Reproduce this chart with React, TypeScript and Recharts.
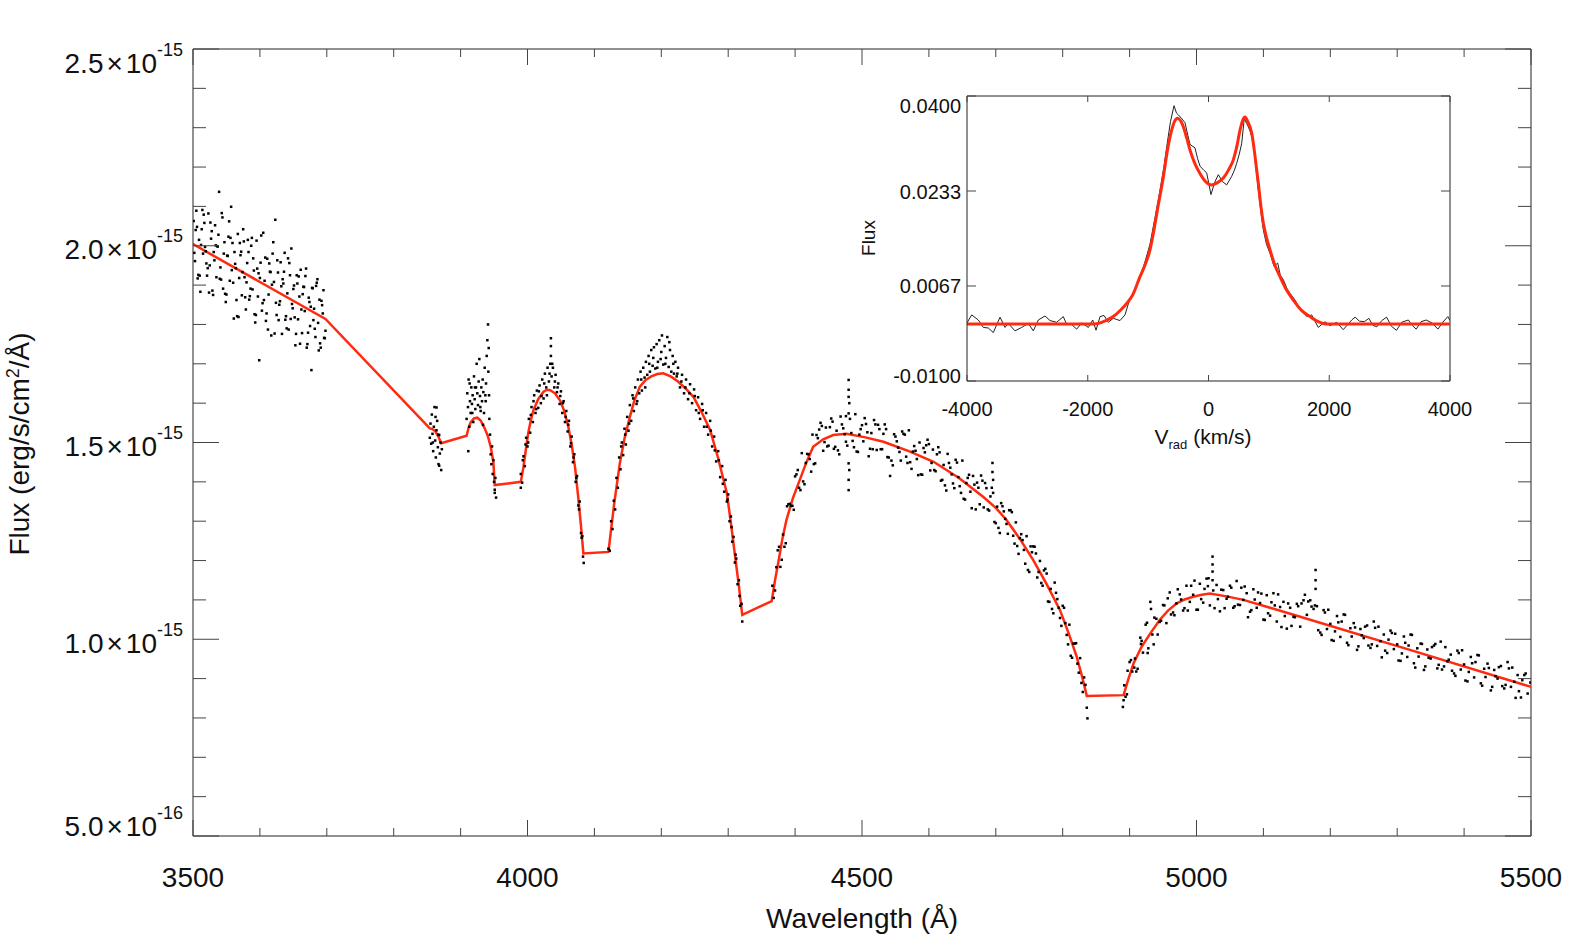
import { ComposedChart, LineChart, Line, Scatter, XAxis, YAxis, ReferenceLine } from 'recharts'

// ---- main spectrum: observed flux (units of 1e-15 erg/s/cm2/A) ----
const blueCont: [number, number][] = [
  [3501,2.063],[3503,1.961],[3505,2.089],[3507,1.917],[3509,2.015],[3511,1.883],[3513,2.042],[3515,1.980],[3517,2.058],[3519,1.986],
  [3521,1.924],[3523,2.082],[3525,1.950],[3527,2.018],[3529,1.886],[3531,1.984],[3533,2.052],[3535,1.920],[3537,1.998],[3539,2.137],
  [3541,1.945],[3543,2.083],[3545,1.891],[3547,2.009],[3549,1.857],[3551,1.975],[3553,2.023],[3555,1.911],[3557,2.099],[3559,2.007],
  [3561,1.815],[3563,1.954],[3565,1.862],[3567,2.030],[3569,1.918],[3571,1.976],[3573,1.874],[3575,2.042],[3577,1.920],[3579,1.838],
  [3581,1.956],[3583,1.984],[3585,1.872],[3587,2.000],[3589,1.889],[3591,1.937],[3593,1.805],[3595,2.013],[3597,1.871],[3599,1.709],
  [3601,1.957],[3603,1.835],[3605,2.033],[3607,1.911],[3609,1.809],[3611,1.967],[3613,1.876],[3615,1.934],[3617,1.772],[3619,1.980],
  [3621,1.908],[3623,2.066],[3625,1.824],[3627,1.932],[3629,1.850],[3631,1.958],[3633,1.776],[3635,1.904],[3637,1.982],[3639,1.821],
  [3641,1.879],[3643,1.787],[3645,1.925],[3647,1.993],[3649,1.841],[3651,1.899],[3653,1.747],[3655,1.925],[3657,1.813],[3659,1.871],
  [3661,1.939],[3663,1.778],[3665,1.896],[3667,1.834],[3669,1.942],[3671,1.750],[3673,1.868],[3675,1.796],[3677,1.684],[3679,1.892],
  [3681,1.840],[3683,1.768],[3685,1.906],[3687,1.804],[3689,1.863],[3691,1.741],[3693,1.849],[3695,1.887],[3697,1.765],
  [3502,1.982],[3506,2.048],[3510,1.924],[3514,2.091],[3518,1.997],[3522,1.943],[3526,2.059],[3530,1.875],[3534,2.001],[3538,2.028],
  [3542,1.914],[3546,1.980],[3550,1.876],[3554,2.062],[3558,1.938],[3562,1.984],[3566,1.821],[3570,2.007],[3574,1.933],[3578,1.869],
  [3582,2.015],[3586,1.891],[3590,1.968],[3594,1.824],[3598,1.930],[3602,2.026],[3606,1.862],[3610,1.828],[3614,1.955],[3618,1.901],
  [3622,1.777],[3626,1.963],[3630,1.859],[3634,1.915],[3638,1.812],[3642,1.968],[3646,1.814],[3650,1.890],[3654,1.776],[3658,1.922],
  [3662,1.838],[3666,1.895],[3670,1.741],[3674,1.857],[3678,1.893],[3682,1.789],[3686,1.915],[3690,1.752],[3694,1.828],[3698,1.784],
  [3504,2.040],[3508,1.926],[3512,2.002],[3516,2.079],[3520,1.955],[3524,1.881],[3528,2.037],[3532,1.963],[3536,1.999],[3540,1.916],
  [3544,2.072],[3548,1.878],[3552,1.974],[3556,2.020],[3560,1.906],[3564,1.943],[3568,1.819],[3572,1.985],[3576,2.011],[3580,1.907],
  [3584,1.863],[3588,2.020],[3592,1.826],[3596,1.942],[3600,1.918],[3604,1.854],[3608,1.970],[3612,1.787],[3616,1.933],[3620,2.009],
  [3624,1.855],[3628,1.811],[3632,1.897],[3636,1.934],[3640,1.790],[3644,1.956],[3648,1.852],[3652,1.818],[3656,1.904],[3660,1.751],
  [3664,1.877],[3668,1.923],[3672,1.779],[3676,1.845],[3680,1.811],[3684,1.898],[3688,1.734],[3692,1.860],[3696,1.766],
]

const clusterH8: [number, number][] = [
  [3854,1.512],[3855,1.548],[3856,1.497],[3857,1.571],[3858,1.522],[3859,1.478],[3860,1.540],[3861,1.590],[3862,1.505],[3863,1.462],
  [3864,1.531],[3865,1.555],[3866,1.488],[3867,1.445],[3868,1.519],[3869,1.472],[3870,1.500],[3871,1.430],[3872,1.483],[3858.5,1.500],
  [3862.5,1.565],[3866.5,1.520],[3864,1.589],[3868,1.441],
]

const clusterCaK: [number, number][] = [
  [3909,1.560],[3910,1.625],[3911,1.590],[3912,1.660],[3913,1.540],[3914,1.605],[3915,1.575],[3916,1.640],[3917,1.598],[3918,1.620],
  [3919,1.552],[3920,1.668],[3921,1.610],[3922,1.585],[3923,1.640],[3924,1.700],[3925,1.625],[3926,1.595],[3927,1.655],[3928,1.712],
  [3929,1.618],[3930,1.580],[3931,1.640],[3932,1.605],[3933,1.660],[3934,1.628],[3935,1.575],[3936,1.690],[3937,1.620],[3938,1.650],
  [3939,1.720],[3940,1.760],[3941,1.800],[3941.5,1.680],[3942,1.740],[3942.5,1.620],[3943,1.560],[3944,1.520],[3911.5,1.478],[3913.5,1.650],
  [3917.5,1.575],[3921.5,1.640],[3929.5,1.590],[3933.5,1.545],[3937.5,1.605],
  [3945,1.470],[3946,1.445],[3947,1.490],[3948,1.420],[3949,1.455],[3950,1.400],[3951,1.380],[3952,1.410],[3953,1.360],[3951,1.372],
]

const archHd: [number, number][] = [
  [3990,1.385],[3990,1.420],[3992,1.398],[3994,1.465],[3996,1.440],[3998,1.512],[4000,1.490],[4002,1.560],[4004,1.525],[4006,1.590],
  [4008,1.552],[4010,1.620],[4012,1.575],[4014,1.632],[4016,1.588],[4018,1.645],[4020,1.600],[4022,1.660],[4024,1.612],[4026,1.675],
  [4028,1.640],[4030,1.690],[4032,1.655],[4034,1.700],[4035,1.745],[4035,1.765],[4035,1.720],[4036,1.668],[4038,1.690],[4040,1.640],
  [4042,1.672],[4044,1.628],[4046,1.650],[4048,1.598],[4050,1.630],[4052,1.575],[4054,1.605],[4056,1.552],[4058,1.580],[4060,1.528],
  [4062,1.555],[4064,1.490],[4066,1.515],[4068,1.450],[4070,1.470],[4072,1.400],[4074,1.415],[4076,1.340],[4078,1.350],[4080,1.270],
  [4082,1.262],[4083,1.210],[4084,1.194],
  [3993,1.455],[3997,1.495],[4001,1.500],[4005,1.570],[4009,1.605],[4013,1.585],[4017,1.630],[4021,1.618],[4025,1.650],[4029,1.620],
  [4033,1.675],[4037,1.700],[4041,1.655],[4045,1.640],[4049,1.618],[4053,1.600],[4057,1.565],[4061,1.545],[4065,1.498],[4069,1.462],
  [4073,1.410],[4077,1.330],[4081,1.258],
]

const archHg: [number, number][] = [
  [4121,1.230],[4123,1.225],[4125,1.300],[4127,1.280],[4129,1.352],[4131,1.330],[4133,1.410],[4135,1.385],[4137,1.462],[4139,1.432],
  [4141,1.500],[4143,1.468],[4145,1.535],[4147,1.495],[4149,1.565],[4151,1.530],[4153,1.595],[4155,1.555],[4157,1.620],[4159,1.580],
  [4161,1.640],[4163,1.598],[4165,1.660],[4167,1.625],[4169,1.680],[4171,1.632],[4173,1.690],[4175,1.665],[4177,1.705],[4179,1.672],
  [4181,1.720],[4183,1.680],[4185,1.735],[4187,1.695],[4189,1.742],[4191,1.688],[4193,1.750],[4195,1.705],[4197,1.760],[4199,1.712],
  [4201,1.772],[4203,1.698],[4205,1.745],[4207,1.715],[4209,1.768],[4211,1.692],[4213,1.735],[4215,1.680],[4217,1.720],[4219,1.675],
  [4221,1.705],[4223,1.668],[4225,1.690],[4228,1.640],[4231,1.672],[4234,1.625],[4237,1.660],[4240,1.610],[4243,1.648],[4246,1.600],
  [4249,1.635],[4252,1.582],[4255,1.615],[4258,1.560],[4261,1.598],[4264,1.540],[4267,1.575],[4270,1.520],[4273,1.555],[4276,1.490],
  [4279,1.515],[4282,1.452],[4285,1.478],[4288,1.412],[4291,1.440],[4294,1.375],[4296,1.405],[4298,1.350],[4300,1.368],[4302,1.300],
  [4304,1.312],[4306,1.248],[4308,1.260],[4310,1.195],[4312,1.205],[4314,1.140],[4316,1.150],[4318,1.085],[4320,1.090],[4321,1.045],
  [4140,1.490],[4146,1.520],[4152,1.548],[4158,1.612],[4164,1.605],[4170,1.660],[4176,1.640],[4182,1.700],[4188,1.715],[4194,1.690],
  [4200,1.730],[4206,1.700],[4212,1.755],[4218,1.700],[4224,1.675],[4230,1.655],[4236,1.640],[4242,1.625],[4250,1.618],[4256,1.575],
  [4262,1.582],[4268,1.540],[4274,1.530],[4280,1.480],[4286,1.455],[4292,1.395],[4299,1.355],[4305,1.285],[4311,1.215],[4317,1.110],
]

const archHb: [number, number][] = [
  [4366,1.136],[4370,1.124],[4374,1.226],[4378,1.184],[4382,1.266],[4386,1.244],[4390,1.343],[4394,1.339],[4398,1.329],[4402,1.419],
  [4406,1.385],[4410,1.473],[4414,1.394],[4418,1.471],[4422,1.458],[4426,1.520],[4430,1.447],[4434,1.511],[4438,1.550],[4442,1.479],
  [4446,1.538],[4450,1.492],[4454,1.561],[4458,1.484],[4462,1.530],[4466,1.470],[4470,1.546],[4474,1.521],[4478,1.492],[4482,1.560],
  [4486,1.504],[4490,1.572],[4494,1.476],[4498,1.534],[4502,1.503],[4506,1.547],[4510,1.465],[4514,1.524],[4518,1.557],[4522,1.481],
  [4526,1.534],[4530,1.483],[4534,1.546],[4538,1.463],[4542,1.415],[4546,1.442],[4550,1.515],[4554,1.487],[4558,1.454],[4562,1.522],
  [4566,1.464],[4570,1.531],[4574,1.433],[4578,1.491],[4582,1.458],[4586,1.500],[4590,1.418],[4594,1.475],[4598,1.507],[4602,1.429],
  [4606,1.482],[4610,1.427],[4614,1.488],[4618,1.403],[4622,1.443],[4626,1.378],[4630,1.448],[4634,1.419],[4638,1.384],[4642,1.449],
  [4646,1.389],[4650,1.454],[4654,1.355],[4658,1.410],[4662,1.375],[4666,1.415],[4670,1.330],[4674,1.385],[4678,1.416],[4682,1.335],
  [4686,1.384],[4690,1.327],[4694,1.385],[4698,1.298],[4702,1.337],[4706,1.270],[4710,1.338],[4714,1.306],[4718,1.268],[4722,1.328],
  [4726,1.263],[4730,1.297],[4734,1.217],[4738,1.267],[4742,1.227],[4746,1.262],[4750,1.171],[4754,1.221],[4758,1.235],[4762,1.157],
  [4766,1.199],[4770,1.136],[4774,1.179],[4778,1.096],[4782,1.128],[4786,1.066],[4790,1.118],[4794,1.080],[4798,1.034],[4802,1.080],
  [4806,1.011],[4810,1.037],[4814,0.953],[4818,0.989],[4822,0.938],[4826,0.952],[4830,0.866],[4834,0.884],[4836,0.826],[4837,0.799],
  [4368,1.105],[4376,1.235],[4384,1.235],[4392,1.344],[4400,1.414],[4408,1.379],[4416,1.448],[4424,1.426],[4432,1.519],[4440,1.542],
  [4448,1.490],[4456,1.553],[4464,1.480],[4472,1.536],[4476,1.567],[4488,1.488],[4496,1.520],[4504,1.562],[4512,1.484],[4520,1.546],
  [4528,1.483],[4536,1.534],[4544,1.454],[4552,1.503],[4560,1.528],[4568,1.448],[4576,1.477],[4584,1.417],[4592,1.486],[4600,1.496],
  [4608,1.430],[4616,1.475],[4624,1.391],[4632,1.436],[4640,1.456],[4648,1.372],[4656,1.397],[4664,1.333],[4672,1.398],[4680,1.403],
  [4688,1.330],[4696,1.372],[4704,1.283],[4712,1.325],[4720,1.328],[4728,1.243],[4736,1.257],[4744,1.192],[4752,1.236],[4760,1.218],
  [4768,1.143],[4776,1.167],[4784,1.077],[4792,1.102],[4800,1.085],[4808,0.987],[4816,0.989],[4824,0.915],[4832,0.903],
  [4372,1.183],[4380,1.202],[4388,1.338],[4396,1.339],[4404,1.430],[4412,1.401],[4420,1.470],[4428,1.445],[4436,1.533],[4444,1.501],
  [4452,1.539],[4460,1.489],[4468,1.566],[4476,1.502],[4484,1.524],[4492,1.477],[4500,1.544],[4508,1.526],[4516,1.483],[4524,1.545],
  [4532,1.522],[4540,1.462],[4548,1.521],[4556,1.476],[4564,1.520],[4572,1.450],[4580,1.479],[4588,1.419],[4596,1.493],[4604,1.448],
  [4612,1.470],[4620,1.405],[4628,1.471],[4636,1.396],[4644,1.412],[4652,1.357],[4660,1.418],[4668,1.393],[4676,1.343],[4684,1.397],
  [4692,1.363],[4700,1.295],[4708,1.346],[4716,1.293],[4724,1.323],[4732,1.237],[4740,1.252],[4748,1.176],[4756,1.236],[4764,1.171],
  [4772,1.175],[4780,1.095],[4788,1.144],[4796,1.054],[4804,1.041],[4812,0.958],[4820,0.990],[4828,0.889],
  [4480,1.659],[4480,1.634],[4480,1.616],[4481,1.600],[4480,1.574],[4480,1.447],[4481,1.430],[4480,1.405],[4480,1.379],
  [4695,1.448],[4695,1.425],[4696,1.405],
]

const redCont: [number, number][] = [
  [4890,0.828],[4891,0.845],[4892,0.883],[4896,0.860],[4900,0.942],[4904,0.918],[4908,0.951],[4912,0.925],[4916,1.004],[4920,0.966],
  [4924,1.037],[4928,0.977],[4931,1.095],[4932,1.077],[4936,0.987],[4940,1.052],[4945,1.044],[4950,1.087],[4955,1.041],[4960,1.119],
  [4965,1.068],[4970,1.091],[4975,1.114],[4980,1.073],[4985,1.136],[4990,1.095],[4995,1.113],[5000,1.075],[5005,1.141],[5010,1.093],
  [5015,1.154],[5020,1.086],[5024,1.210],[5024,1.190],[5024,1.172],[5024,1.150],[5025,1.124],[5030,1.138],[5035,1.071],[5040,1.125],
  [5045,1.103],[5050,1.136],[5055,1.080],[5060,1.148],[5065,1.087],[5070,1.100],[5075,1.117],[5080,1.070],[5085,1.127],[5090,1.080],
  [5095,1.092],[5100,1.050],[5105,1.112],[5110,1.060],[5115,1.117],[5120,1.045],[5125,1.082],[5130,1.095],[5135,1.027],[5140,1.080],
  [5145,1.057],[5150,1.090],[5155,1.032],[5160,1.099],[5165,1.062],[5170,1.099],[5175,1.077],[5178,1.176],[5178,1.150],[5178,1.128],
  [5180,1.084],[5185,1.017],[5190,1.074],[5195,1.026],[5200,1.039],[5205,0.996],[5210,1.059],[5215,1.006],[5220,1.063],[5225,0.991],
  [5230,1.028],[5235,1.041],[5240,0.973],[5245,1.026],[5250,1.003],[5255,1.035],[5260,0.978],[5265,1.045],[5270,0.983],[5275,0.995],
  [5280,1.012],[5285,0.965],[5290,1.022],[5295,0.975],[5300,0.987],[5305,0.945],[5310,1.007],[5315,0.955],[5320,1.012],[5325,0.939],
  [5330,0.977],[5335,0.989],[5340,0.922],[5345,0.974],[5350,0.951],[5355,0.984],[5360,0.926],[5365,0.994],[5370,0.931],[5375,0.944],
  [5380,0.961],[5385,0.913],[5390,0.971],[5395,0.923],[5400,0.936],[5405,0.893],[5410,0.955],[5415,0.903],[5420,0.960],[5425,0.888],
  [5430,0.925],[5435,0.938],[5440,0.870],[5445,0.922],[5450,0.900],[5455,0.932],[5460,0.875],[5465,0.942],[5470,0.879],[5475,0.892],
  [5480,0.909],[5485,0.852],[5490,0.909],[5495,0.862],[5499,0.890],
  [4894,0.854],[4902,0.947],[4910,0.918],[4918,0.996],[4926,1.042],[4934,1.012],[4942,1.012],[4952,1.086],[4962,1.063],[4972,1.127],
  [4982,1.079],[4992,1.136],[5002,1.075],[5012,1.128],[5018,1.155],[5032,1.102],[5042,1.079],[5052,1.131],[5062,1.088],[5072,1.134],
  [5082,1.074],[5092,1.119],[5102,1.049],[5112,1.094],[5122,1.114],[5132,1.059],[5142,1.034],[5152,1.084],[5162,1.113],[5172,1.083],
  [5182,1.023],[5192,1.068],[5202,0.998],[5212,1.043],[5222,1.062],[5232,1.007],[5242,0.982],[5252,1.032],[5262,0.987],[5272,1.032],
  [5282,0.971],[5292,1.016],[5302,0.946],[5312,0.991],[5322,1.011],[5332,0.956],[5342,0.931],[5352,0.980],[5362,0.935],[5372,0.980],
  [5382,0.920],[5392,0.965],[5402,0.895],[5412,0.939],[5422,0.959],[5432,0.904],[5442,0.879],[5452,0.929],[5462,0.884],[5472,0.928],
  [5482,0.868],[5492,0.913],
  [4897,0.920],[4907,0.928],[4917,0.988],[4927,0.965],[4937,1.055],[4947,1.047],[4957,1.104],[4967,1.061],[4977,1.101],[4987,1.073],
  [4997,1.149],[5007,1.102],[5017,1.135],[5027,1.079],[5037,1.126],[5047,1.108],[5057,1.084],[5067,1.131],[5077,1.056],[5087,1.101],
  [5097,1.116],[5107,1.066],[5117,1.086],[5127,1.031],[5137,1.091],[5147,1.056],[5157,1.091],[5167,1.096],[5177,1.086],[5187,1.011],
  [5197,1.075],[5207,1.020],[5217,1.045],[5227,0.985],[5237,1.030],[5247,1.010],[5257,0.984],[5267,1.029],[5277,0.954],[5287,0.999],
  [5297,1.014],[5307,0.964],[5317,0.984],[5327,0.928],[5337,0.988],[5347,0.953],[5357,0.988],[5367,0.923],[5377,0.948],[5387,0.907],
  [5397,0.972],[5407,0.917],[5417,0.942],[5427,0.882],[5437,0.927],[5447,0.906],[5457,0.881],[5467,0.926],[5477,0.851],[5487,0.896],
]

// continuum fit (red)
const fitSpec: [number, number][] = [
  [3500,2.004],[3698,1.814],[3854,1.536],[3858,1.534],[3862,1.529],[3867,1.514],[3871,1.498],[3909,1.517],[3912,1.538],[3915,1.551],
  [3920,1.561],[3925,1.563],[3930,1.556],[3936,1.536],[3941,1.515],[3945,1.489],[3949,1.450],[3951,1.392],[3990,1.400],[3994,1.438],
  [3998,1.488],[4001,1.523],[4005,1.557],[4009,1.583],[4016,1.610],[4024,1.629],[4029,1.634],[4034,1.633],[4041,1.625],[4049,1.606],
  [4055,1.580],[4061,1.540],[4066,1.495],[4071,1.438],[4076,1.358],[4080,1.287],[4083.5,1.218],[4121,1.222],[4125,1.280],[4130,1.350],
  [4138,1.447],[4145,1.510],[4153,1.565],[4160,1.608],[4168,1.642],[4176,1.658],[4185,1.668],[4194,1.674],[4203,1.676],[4214,1.668],
  [4225,1.655],[4237,1.636],[4248,1.616],[4260,1.578],[4273,1.532],[4285,1.460],[4298,1.371],[4304,1.296],[4310,1.215],[4316,1.135],
  [4321,1.062],[4365,1.097],[4370,1.150],[4376,1.206],[4381,1.255],[4387,1.303],[4397,1.360],[4407,1.405],[4417,1.450],[4427,1.489],
  [4442,1.508],[4457,1.519],[4477,1.522],[4505,1.513],[4532,1.502],[4570,1.478],[4607,1.451],[4645,1.410],[4681,1.362],[4700,1.334],
  [4716,1.303],[4736,1.255],[4756,1.201],[4776,1.140],[4796,1.074],[4810,1.010],[4821,0.955],[4829,0.905],[4836,0.856],[4891,0.858],
  [4898,0.898],[4906,0.939],[4918,0.981],[4931,1.015],[4945,1.049],[4957,1.072],[4970,1.091],[4982,1.101],[4995,1.108],[5008,1.113],
  [5020,1.116],[5045,1.109],[5070,1.100],[5110,1.080],[5155,1.057],[5319,0.973],[5500,0.879],
]

const xTicks = [3500,3600,3700,3800,3900,4000,4100,4200,4300,4400,4500,4600,4700,4800,4900,5000,5100,5200,5300,5400,5500]
const yTicks = [0.5,0.6,0.7,0.8,0.9,1.0,1.1,1.2,1.3,1.4,1.5,1.6,1.7,1.8,1.9,2.0,2.1,2.2,2.3,2.4,2.5]
const yMajor = [0.5, 1.0, 1.5, 2.0, 2.5]
const yMantissa = ['5.0', '1.0', '1.5', '2.0', '2.5']
const yExponent = ['-16', '-15', '-15', '-15', '-15']

// ---- inset: line profile in velocity space ----
const profileObs: [number, number][] = [
  [-4000,0.0002],[-3922,0.0016],[-3812,0.0007],[-3730,-0.0006],[-3647,-0.0007],[-3564,-0.0015],[-3453,0.0012],[-3370,-0.0006],
  [-3316,0.0001],[-3205,-0.0012],[-3094,-0.0006],[-2985,0.0001],[-2902,-0.0012],[-2819,0.0007],[-2708,0.0014],[-2625,0.0006],
  [-2514,0.0003],[-2405,0.0013],[-2349,-0.0001],[-2266,-0.0001],[-2183,-0.0009],[-2100,0.0002],[-1990,-0.0006],[-1918,0.0007],
  [-1863,-0.0011],[-1797,0.0013],[-1731,0.0015],[-1660,0.0003],[-1577,0.0010],[-1466,0.0006],[-1383,0.0016],[-1300,0.0045],
  [-1220,0.0060],[-1135,0.0080],[-1050,0.0110],[-969,0.0140],[-880,0.0190],[-803,0.0235],[-740,0.0275],[-692,0.0311],
  [-630,0.0355],[-571,0.0383],[-530,0.0370],[-500,0.0367],[-440,0.0360],[-389,0.0353],[-340,0.0330],[-306,0.0315],
  [-224,0.0309],[-180,0.0290],[-141,0.0277],[-80,0.0270],[-30,0.0265],[41,0.0227],[100,0.0248],[163,0.0262],
  [230,0.0250],[301,0.0244],[384,0.0259],[430,0.0270],[467,0.0282],[510,0.0298],[550,0.0317],[593,0.0361],
  [630,0.0352],[660,0.0346],[700,0.0335],[743,0.0317],[780,0.0280],[825,0.0235],[870,0.0195],[908,0.0165],
  [960,0.0140],[1019,0.0124],[1085,0.0101],[1146,0.0107],[1190,0.0085],[1239,0.0078],[1300,0.0062],[1350,0.0054],
  [1433,0.0042],[1488,0.0031],[1570,0.0022],[1627,0.0013],[1709,0.0016],[1818,-0.0006],[1930,0.0004],[2012,-0.0003],
  [2123,0.0003],[2231,-0.0010],[2372,0.0007],[2428,0.0012],[2500,0.0005],[2580,0.0004],[2657,0.0010],[2720,-0.0002],
  [2788,-0.0005],[2870,0.0006],[2950,0.0012],[3030,-0.0004],[3114,-0.0011],[3200,0.0003],[3310,0.0007],[3380,-0.0003],
  [3440,-0.0009],[3520,0.0004],[3604,0.0007],[3700,0.0002],[3800,-0.0009],[3880,0.0003],[3964,0.0013],[4000,0.0006],
]

const profileFit: [number, number][] = [
  [-4000,0],[-1900,0],[-1700,0.0006],[-1577,0.0013],[-1450,0.0025],[-1355,0.0036],[-1250,0.0052],[-1135,0.0083],[-1050,0.0104],
  [-969,0.0130],[-914,0.0159],[-830,0.0210],[-748,0.0258],[-680,0.0305],[-610,0.0340],[-560,0.0356],[-510,0.0361],[-460,0.0356],
  [-417,0.0346],[-360,0.0326],[-306,0.0305],[-220,0.0280],[-141,0.0264],[-50,0.0250],[53,0.0244],[150,0.0248],[245,0.0256],
  [330,0.0270],[411,0.0288],[470,0.0312],[522,0.0340],[565,0.0357],[605,0.0363],[650,0.0355],[716,0.0335],[770,0.0295],
  [825,0.0247],[870,0.0205],[908,0.0177],[960,0.0152],[1019,0.0130],[1100,0.0103],[1184,0.0083],[1290,0.0060],[1405,0.0042],
  [1540,0.0024],[1681,0.0013],[1800,0.0005],[1901,0.0001],[2000,0],[4000,0],
]

const insetXTicks = [-4000, -2000, 0, 2000, 4000]
const insetYTicks = [-0.01, 0.0066667, 0.0233333, 0.04]
const insetYLabels = ['-0.0100', '0.0067', '0.0233', '0.0400']

const pts = (a: [number, number][]) => a.map(([wl, f]) => ({ wl, f }))
const vpts = (a: [number, number][]) => a.map(([v, f]) => ({ v, f }))

const FONT = '"Liberation Sans", Arial, Helvetica, sans-serif'
const RED = '#ff2a10'
const TICK = '#444'
const P = { left: 193, right: 1531, top: 49, bottom: 836 }
// inset plot box, relative to its own svg
const IP = { left: 127, right: 610, top: 16, bottom: 301 }

const Dot = (p: any) => <rect x={p.cx - 1.25} y={p.cy - 1.25} width={2.5} height={2.5} fill="#000" />

function MainXTick(props: any) {
  const { x, payload } = props
  const v = payload.value
  const major = v % 500 === 0
  const len = major ? 16 : 8
  return (
    <g>
      <line x1={x} x2={x} y1={P.bottom} y2={P.bottom - len} stroke={TICK} />
      <line x1={x} x2={x} y1={P.top} y2={P.top + len} stroke={TICK} />
      {major && (
        <text x={x} y={887} textAnchor="middle" fontSize={28} fontFamily={FONT} fill="#111">{v}</text>
      )}
    </g>
  )
}

function MainYTick(props: any) {
  const { y, payload } = props
  const v = payload.value
  const mi = yMajor.findIndex((m) => Math.abs(m - v) < 1e-6)
  const major = mi >= 0
  const len = major ? 26 : 13
  let base = y + 13.5
  if (mi === yMajor.length - 1) base = y + 24
  if (mi === 0) base = y
  return (
    <g>
      <line x1={P.left} x2={P.left + len} y1={y} y2={y} stroke={TICK} />
      <line x1={P.right} x2={P.right - len} y1={y} y2={y} stroke={TICK} />
      {major && (
        <text x={183} y={base} textAnchor="end" fontSize={28} fontFamily={FONT} fill="#111">
          <tspan>{yMantissa[mi]}</tspan>
          <tspan dx={3}>×</tspan>
          <tspan dx={3}>10</tspan>
          <tspan dy={-17} fontSize={18}>{yExponent[mi]}</tspan>
        </text>
      )}
    </g>
  )
}

function InsetXTick(props: any) {
  const { x, payload } = props
  return (
    <g>
      <line x1={x} x2={x} y1={IP.bottom} y2={IP.bottom - 6} stroke={TICK} />
      <line x1={x} x2={x} y1={IP.top} y2={IP.top + 6} stroke={TICK} />
      <text x={x} y={IP.bottom + 35} textAnchor="middle" fontSize={20} fontFamily={FONT} fill="#111">{payload.value}</text>
    </g>
  )
}

function InsetYTick(props: any) {
  const { y, index } = props
  let base = y + 7.5
  if (index === 0) base = y + 1.5
  if (index === insetYTicks.length - 1) base = y + 17
  return (
    <g>
      <line x1={IP.left} x2={IP.left + 9} y1={y} y2={y} stroke={TICK} />
      <line x1={IP.right} x2={IP.right - 9} y1={y} y2={y} stroke={TICK} />
      <text x={IP.left - 6} y={base} textAnchor="end" fontSize={20} fontFamily={FONT} fill="#111">{insetYLabels[index]}</text>
    </g>
  )
}

const scatterSets = [blueCont, clusterH8, clusterCaK, archHd, archHg, archHb, redCont]

export default function App() {
  return (
    <div style={{ position: 'absolute', left: 0, top: 0, width: 1579, height: 946, background: '#fff', fontFamily: FONT }}>
      <div style={{ position: 'absolute', left: 0, top: 0 }}>
        <ComposedChart width={1579} height={946} margin={{ top: 49, right: 48, bottom: 0, left: 0 }}>
          <XAxis type="number" dataKey="wl" domain={[3500, 5500]} ticks={xTicks} interval={0} height={110}
            tickSize={0} tickMargin={0} tick={MainXTick} axisLine={{ stroke: '#222' }} allowDataOverflow />
          <YAxis type="number" dataKey="f" domain={[0.5, 2.5]} ticks={yTicks} interval={0} width={193}
            tickSize={0} tickMargin={0} tick={MainYTick} axisLine={{ stroke: '#222' }} allowDataOverflow />
          <ReferenceLine x={5500} stroke="#222" />
          <ReferenceLine y={2.5} stroke="#222" />
          {scatterSets.map((s, i) => (
            <Scatter key={i} data={pts(s)} dataKey="f" shape={Dot} isAnimationActive={false} />
          ))}
          <Line data={pts(fitSpec)} dataKey="f" type="linear" stroke={RED} strokeWidth={2.5} dot={false} isAnimationActive={false} />
        </ComposedChart>
      </div>

      <div style={{ position: 'absolute', left: 840, top: 80 }}>
        <LineChart width={640} height={380} margin={{ top: 16, right: 30, bottom: 0, left: 0 }}>
          <XAxis type="number" dataKey="v" domain={[-4000, 4000]} ticks={insetXTicks} interval={0} height={79}
            tickSize={0} tickMargin={0} tick={InsetXTick} axisLine={{ stroke: '#222' }} allowDataOverflow />
          <YAxis type="number" dataKey="f" domain={[-0.01, 0.04]} ticks={insetYTicks} interval={0} width={127}
            tickSize={0} tickMargin={0} tick={InsetYTick} axisLine={{ stroke: '#222' }} allowDataOverflow />
          <ReferenceLine x={4000} stroke="#222" />
          <ReferenceLine y={0.04} stroke="#222" />
          <Line data={vpts(profileObs)} dataKey="f" type="linear" stroke="#222" strokeWidth={1} dot={false} isAnimationActive={false} />
          <Line data={vpts(profileFit)} dataKey="f" type="monotone" stroke={RED} strokeWidth={3} dot={false} isAnimationActive={false} />
        </LineChart>
      </div>

      <svg width={1579} height={946} style={{ position: 'absolute', left: 0, top: 0, pointerEvents: 'none' }}>
        <text x={862} y={928} textAnchor="middle" fontSize={28} fontFamily={FONT} fill="#111">Wavelength (Å)</text>
        <text x={29} y={444} textAnchor="middle" fontSize={28} fontFamily={FONT} fill="#111" transform="rotate(-90 29 444)">
          <tspan>Flux (erg/s/cm</tspan>
          <tspan dy={-10} fontSize={18}>2</tspan>
          <tspan dy={10}>/Å)</tspan>
        </text>
        <text x={875} y={238} textAnchor="middle" fontSize={19} fontFamily={FONT} fill="#111" transform="rotate(-90 875 238)">Flux</text>
        <text x={1203} y={444} textAnchor="middle" fontSize={21} fontFamily={FONT} fill="#111">
          <tspan>V</tspan>
          <tspan dy={5} fontSize={13}>rad</tspan>
          <tspan dy={-5}> (km/s)</tspan>
        </text>
      </svg>
    </div>
  )
}
